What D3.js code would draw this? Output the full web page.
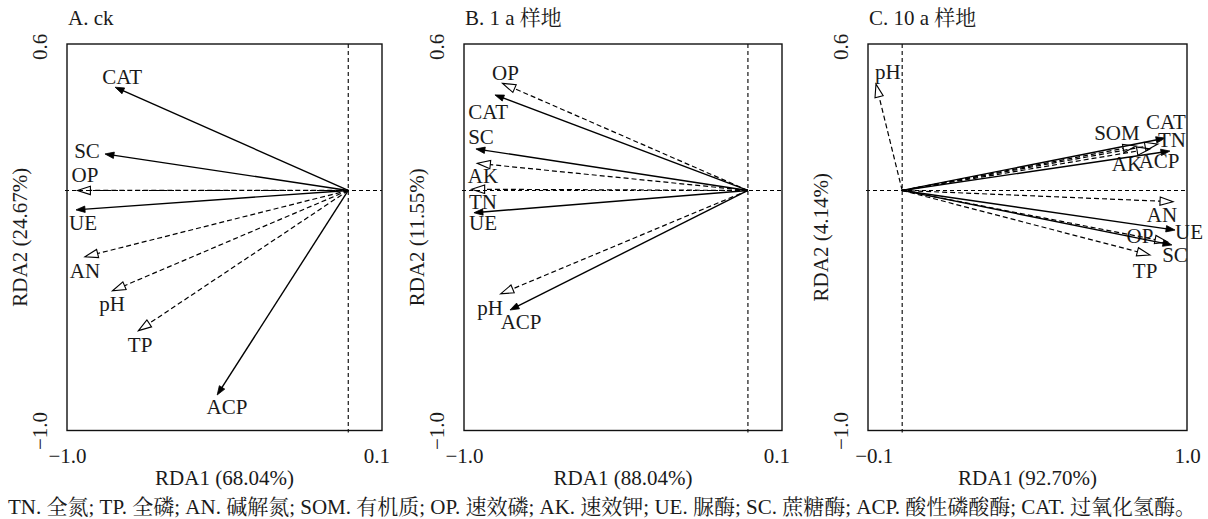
<!DOCTYPE html>
<html>
<head>
<meta charset="utf-8">
<script src="https://cdn.jsdelivr.net/npm/d3@7"></script>
<style>
body { margin: 0; background: #fff; }
text {
  font-family: "Liberation Serif", "Times New Roman", "Noto Serif CJK SC", "Noto Sans CJK SC", serif;
  font-size: 21px;
  fill: #1a1a1a;
}
</style>
</head>
<body>
<svg id="chart" width="1208" height="519"></svg>
<script>
// RDA biplots for three plots: ck, 1 a and 10 a

// panel titles and axis titles
const panelTitles = ["A. ck", "B. 1 a 样地", "C. 10 a 样地"];
const xTitles = ["RDA1 (68.04%)", "RDA1 (88.04%)", "RDA1 (92.70%)"];
const yTitles = ["RDA2 (24.67%)", "RDA2 (11.55%)", "RDA2 (4.14%)"];
const xDomains = [[-1.0, 0.12], [-1.0, 0.12], [-0.12, 1.0]];
const xTicks = [[-1.0, 0.1], [-1.0, 0.1], [-0.1, 1.0]];
const yDomain = [-1.0, 0.61];
const yTicks = [0.6, -1.0];
const caption = "TN. 全氮; TP. 全磷; AN. 碱解氮; SOM. 有机质; OP. 速效磷; AK. 速效钾; UE. 脲酶; SC. 蔗糖酶; ACP. 酸性磷酸酶; CAT. 过氧化氢酶。";

// enzymes get solid arrows, soil properties dashed ones with open heads
const enzymes = ["CAT", "SC", "UE", "ACP"];

// A. ck
const namesA = ["CAT", "SC", "OP", "UE", "AN", "pH", "TP", "ACP"];
const tipXA = [-0.829, -0.865, -0.963, -0.968, -0.936, -0.838, -0.746, -0.466];
const tipYA = [0.430, 0.152, 0.0, -0.081, -0.276, -0.418, -0.584, -0.852];
const labXA = [-0.804, -0.929, -0.936, -0.943, -0.936, -0.840, -0.740, -0.431];
const labYA = [0.473, 0.164, 0.064, -0.136, -0.336, -0.473, -0.644, -0.902];

// B. 1 a
const namesB = ["OP", "CAT", "SC", "AK", "TN", "UE", "pH", "ACP"];
const tipXB = [-0.864, -0.891, -0.958, -0.953, -0.973, -0.965, -0.871, -0.838];
const tipYB = [0.446, 0.398, 0.173, 0.113, 0.005, -0.093, -0.431, -0.498];
const labXB = [-0.854, -0.915, -0.940, -0.933, -0.933, -0.933, -0.908, -0.799];
const labYB = [0.489, 0.327, 0.223, 0.060, -0.048, -0.136, -0.490, -0.548];

// C. 10 a
const namesC = ["pH", "CAT", "TN", "SOM", "AK", "ACP", "AN", "UE", "OP", "SC", "TP"];
const tipXC = [-0.092, 0.923, 0.898, 0.821, 0.870, 0.940, 0.951, 0.958, 0.933, 0.947, 0.870];
const tipYC = [0.443, 0.218, 0.193, 0.185, 0.173, 0.164, -0.047, -0.165, -0.215, -0.227, -0.269];
const labXC = [-0.050, 0.926, 0.947, 0.754, 0.789, 0.902, 0.912, 1.007, 0.835, 0.958, 0.853];
const labYC = [0.493, 0.285, 0.210, 0.239, 0.110, 0.123, -0.102, -0.173, -0.190, -0.269, -0.336];

const panelVars = [
  [namesA, tipXA, tipYA, labXA, labYA],
  [namesB, tipXB, tipYB, labXB, labYB],
  [namesC, tipXC, tipYC, labXC, labYC]
];

// layout
const boxLeft = [67, 464, 868];
const boxWidth = [315, 318, 319];
const boxTop = 44, boxBottom = 430.5;

const svg = d3.select('#chart');

const render = (i) => {
  const x = d3.scaleLinear().domain(xDomains[i]).range([boxLeft[i], boxLeft[i] + boxWidth[i]]);
  const y = d3.scaleLinear().domain(yDomain).range([boxBottom, boxTop]);
  const g = svg.append('g').attr('class', 'panel');

  // dashed zero lines
  g.append('line')
      .attr('x1', x.range()[0] - 2).attr('x2', x.range()[1])
      .attr('y1', y(0)).attr('y2', y(0))
      .attr('stroke', '#000').attr('stroke-width', 1.1)
      .attr('stroke-dasharray', '4,3');
  g.append('line')
      .attr('x1', x(0)).attr('x2', x(0))
      .attr('y1', boxTop).attr('y2', boxBottom + 2)
      .attr('stroke', '#000').attr('stroke-width', 1.1)
      .attr('stroke-dasharray', '4,3');

  // frame
  g.append('rect')
      .attr('x', x.range()[0]).attr('y', boxTop)
      .attr('width', boxWidth[i]).attr('height', boxBottom - boxTop)
      .attr('fill', 'none').attr('stroke', '#111').attr('stroke-width', 1.4);

  const [names, tx, ty, lx, ly] = panelVars[i];
  const data = names.map((n, j) => ({
    name: n, tx: tx[j], ty: ty[j], lx: lx[j], ly: ly[j], solid: enzymes.includes(n)
  }));

  // arrow geometry from scaled positions
  const geom = d => {
    const x0 = x(0), y0 = y(0), x1 = x(d.tx), y1 = y(d.ty);
    const len = Math.hypot(x1 - x0, y1 - y0);
    const ux = (x1 - x0) / len, uy = (y1 - y0) / len;
    const L = d.solid ? 9 : 13, w = d.solid ? 3.2 : 4.2;
    const bx = x1 - ux * L, by = y1 - uy * L;
    return {
      x0, y0,
      xe: d.solid ? x1 - ux * 3 : bx, ye: d.solid ? y1 - uy * 3 : by,
      head: [[x1, y1], [bx - uy * w, by + ux * w], [bx + uy * w, by - ux * w]]
    };
  };

  const arrows = g.selectAll('.arrow').data(data).enter()
      .append('g').attr('class', 'arrow');

  arrows.append('line')
      .attr('x1', d => geom(d).x0).attr('y1', d => geom(d).y0)
      .attr('x2', d => geom(d).xe).attr('y2', d => geom(d).ye)
      .attr('stroke', '#000')
      .attr('stroke-width', d => d.solid ? 1.4 : 1.2)
      .attr('stroke-dasharray', d => d.solid ? null : '5,3');

  arrows.append('polygon')
      .attr('points', d => geom(d).head.map(p => p.join(',')).join(' '))
      .attr('fill', d => d.solid ? '#000' : 'none')
      .attr('stroke', '#000')
      .attr('stroke-width', d => d.solid ? 0.8 : 1.1)
      .attr('stroke-linejoin', 'miter');

  arrows.append('text')
      .attr('x', d => x(d.lx))
      .attr('y', d => y(d.ly))
      .attr('dy', '0.35em')
      .attr('text-anchor', 'middle')
      .text(d => d.name);

  // x axis labels
  const xAxis = d3.axisBottom(x).tickValues(xTicks[i]).tickSize(0).tickFormat(d3.format('.1f'));
  g.append('g')
      .attr('transform', `translate(0,${boxBottom + 32.5})`)
      .call(xAxis)
      .call(a => a.select('.domain').remove())
      .call(a => a.selectAll('text').attr('y', 0).attr('dy', null));

  // y axis labels, rotated
  const yAxis = d3.axisLeft(y).tickValues(yTicks).tickSize(0).tickFormat(d3.format('.1f'));
  g.append('g')
      .attr('transform', `translate(${x.range()[0]},0)`)
      .call(yAxis)
      .call(a => a.select('.domain').remove())
      .call(a => a.selectAll('text')
          .attr('transform', 'rotate(-90)')
          .attr('x', 0).attr('y', -20).attr('dy', null)
          .attr('text-anchor', 'middle'));

  // titles
  g.append('text')
      .attr('x', (x.range()[0] + x.range()[1]) / 2)
      .attr('y', 485)
      .attr('text-anchor', 'middle')
      .text(xTitles[i]);

  g.append('text')
      .attr('transform', `translate(${x.range()[0] - 40},${(boxTop + boxBottom) / 2}) rotate(-90)`)
      .attr('text-anchor', 'middle')
      .text(yTitles[i]);

  g.append('text')
      .attr('x', x.range()[0] + 1)
      .attr('y', 25)
      .text(panelTitles[i]);
};

panelTitles.forEach((t, i) => render(i));

svg.append('text')
    .attr('x', 602)
    .attr('y', 514)
    .attr('text-anchor', 'middle')
    .text(caption);
</script>
</body>
</html>
